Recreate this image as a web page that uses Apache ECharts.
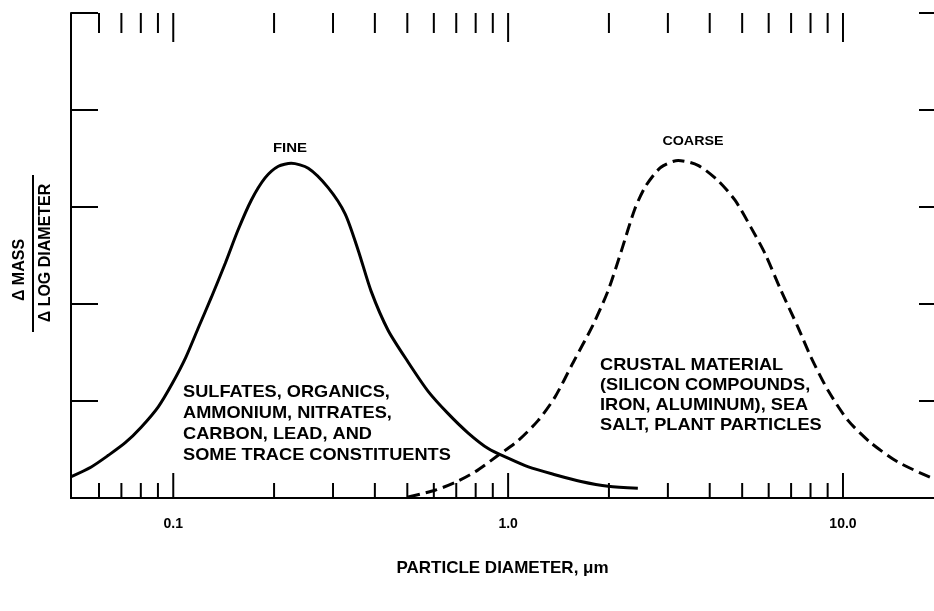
<!DOCTYPE html>
<html>
<head>
<meta charset="utf-8">
<script src="https://cdn.jsdelivr.net/npm/echarts@6/dist/echarts.min.js"></script>
<style>
  html, body { margin: 0; padding: 0; background: #fff; }
  #chart { width: 934px; height: 611px; }
</style>
</head>
<body>
<div id="chart"></div>
<script>
// fine mode (solid curve), particle diameter in um vs relative mass
const fineX = [0.0496, 0.0569, 0.064, 0.0719, 0.0802, 0.0902, 0.0993, 0.109, 0.119, 0.13, 0.143,
  0.156, 0.171, 0.188, 0.206, 0.225, 0.253, 0.29, 0.326, 0.357, 0.39, 0.438, 0.503, 0.577,
  0.662, 0.76, 0.872, 1.0, 1.15, 1.38, 1.65, 1.99, 2.44]
const fineY = [0.22, 0.32, 0.44, 0.57, 0.73, 0.94, 1.18, 1.45, 1.76, 2.07, 2.42,
  2.76, 3.07, 3.3, 3.42, 3.45, 3.4, 3.2, 2.93, 2.55, 2.13, 1.73, 1.4, 1.1,
  0.87, 0.67, 0.51, 0.41, 0.32, 0.24, 0.17, 0.12, 0.1]

// coarse mode (dashed curve)
const coarseX = [0.503, 0.605, 0.695, 0.797, 0.934, 1.07, 1.23, 1.38, 1.56, 1.79, 1.99, 2.18,
  2.39, 2.58, 2.86, 3.22, 3.69, 4.24, 4.76, 5.31, 5.85, 6.53, 7.34, 8.03, 9.02, 10.35,
  12.1, 14.6, 18.3]
const coarseY = [0.01, 0.08, 0.16, 0.27, 0.44, 0.59, 0.8, 1.04, 1.39, 1.78, 2.14, 2.55,
  2.98, 3.22, 3.41, 3.48, 3.43, 3.27, 3.07, 2.79, 2.52, 2.14, 1.76, 1.45, 1.11, 0.8,
  0.57, 0.37, 0.21]

// axis ticks and labels
const majorTicks = [0.1, 1, 10]
const majorTickLabels = ['0.1', '1.0', '10.0']
const minorTicks = [0.06, 0.07, 0.08, 0.09, 0.2, 0.3, 0.4, 0.5, 0.6, 0.7, 0.8, 0.9,
  2, 3, 4, 5, 6, 7, 8, 9]

const FONT = "'Liberation Sans', Arial, sans-serif"
const X_MIN = 0.0495
const X_MAX = 18.7

const chart = echarts.init(document.getElementById('chart'))

const tickData = majorTicks.map(v => [v, 1]).concat(minorTicks.map(v => [v, 0]))

const option = {
  backgroundColor: '#fff',
  animation: false,
  grid: { left: 71, right: 0, top: 13, bottom: 113 },
  xAxis: [
    {
      type: 'log',
      logBase: 10,
      min: X_MIN,
      max: X_MAX,
      position: 'bottom',
      name: 'PARTICLE DIAMETER, μm',
      nameLocation: 'middle',
      nameGap: 62,
      nameTextStyle: { color: '#000', fontFamily: FONT, fontWeight: 'bold', fontSize: 17 },
      axisLine: { lineStyle: { color: '#000', width: 2 } },
      axisTick: { show: false },
      splitLine: { show: false },
      axisLabel: {
        color: '#000',
        fontFamily: FONT,
        fontWeight: 'bold',
        fontSize: 14,
        margin: 19,
        showMinLabel: false,
        showMaxLabel: false,
        formatter: v => {
          const i = majorTicks.findIndex(m => Math.abs(Math.log10(m) - Math.log10(v)) < 1e-6)
          return i >= 0 ? majorTickLabels[i] : ''
        }
      }
    },
    {
      type: 'log',
      logBase: 10,
      min: X_MIN,
      max: X_MAX,
      position: 'top',
      axisLine: { lineStyle: { color: '#000', width: 2 } },
      axisTick: { show: false },
      axisLabel: { show: false },
      splitLine: { show: false }
    }
  ],
  yAxis: [
    {
      type: 'value',
      min: 0,
      max: 5,
      interval: 1,
      position: 'left',
      axisLine: { show: true, lineStyle: { color: '#000', width: 2 } },
      axisTick: { show: true, inside: true, length: 27, lineStyle: { color: '#000', width: 2 } },
      axisLabel: { show: false },
      splitLine: { show: false }
    },
    {
      type: 'value',
      min: 0,
      max: 5,
      interval: 1,
      position: 'right',
      axisLine: { show: false },
      axisTick: { show: true, inside: true, length: 15, lineStyle: { color: '#000', width: 2 } },
      axisLabel: { show: false },
      splitLine: { show: false }
    }
  ],
  graphic: [
    // y axis title as a fraction
    {
      type: 'text', x: 20, y: 270, rotation: Math.PI / 2,
      style: { text: 'Δ MASS', font: "bold 16px " + FONT, fill: '#000', align: 'center', verticalAlign: 'middle' }
    },
    {
      type: 'line', shape: { x1: 33, y1: 175, x2: 33, y2: 332 },
      style: { stroke: '#000', lineWidth: 2 }
    },
    {
      type: 'text', x: 46, y: 253, rotation: Math.PI / 2,
      style: { text: 'Δ LOG DIAMETER', font: "bold 16px " + FONT, fill: '#000', align: 'center', verticalAlign: 'middle' }
    },
    // curve names
    {
      type: 'text', x: 290, y: 148, scaleX: 1.15,
      style: { text: 'FINE', font: "bold 13px " + FONT, fill: '#000', align: 'center', verticalAlign: 'middle' }
    },
    {
      type: 'text', x: 693, y: 141, scaleX: 1.1,
      style: { text: 'COARSE', font: "bold 13px " + FONT, fill: '#000', align: 'center', verticalAlign: 'middle' }
    },
    // composition notes
    {
      type: 'text', x: 183, y: 382, scaleX: 1.07,
      style: {
        text: 'SULFATES, ORGANICS,\nAMMONIUM, NITRATES,\nCARBON, LEAD, AND\nSOME TRACE CONSTITUENTS',
        font: "bold 17px " + FONT, lineHeight: 21, fill: '#000', align: 'left', verticalAlign: 'top'
      }
    },
    {
      type: 'text', x: 600, y: 355, scaleX: 1.07,
      style: {
        text: 'CRUSTAL MATERIAL\n(SILICON COMPOUNDS,\nIRON, ALUMINUM), SEA\nSALT, PLANT PARTICLES',
        font: "bold 17px " + FONT, lineHeight: 20, fill: '#000', align: 'left', verticalAlign: 'top'
      }
    }
  ],
  series: [
    {
      name: 'Fine',
      type: 'line',
      smooth: 0.25,
      showSymbol: false,
      lineStyle: { color: '#000', width: 3 },
      data: fineX.map((x, i) => [x, fineY[i]])
    },
    {
      name: 'Coarse',
      type: 'line',
      smooth: 0.25,
      showSymbol: false,
      lineStyle: { color: '#000', width: 3, type: [12, 6] },
      data: coarseX.map((x, i) => [x, coarseY[i]])
    },
    {
      // log minor/major ticks on top and bottom frames
      name: 'ticks',
      type: 'custom',
      silent: true,
      data: tickData,
      renderItem: (params, api) => {
        const x = api.value(0)
        const major = api.value(1) === 1
        const b = api.coord([x, 0])
        const t = api.coord([x, 5])
        const lb = major ? 25 : 15
        const lt = major ? 29 : 20
        const style = { stroke: '#000', lineWidth: 2 }
        return {
          type: 'group',
          children: [
            { type: 'line', shape: { x1: b[0], y1: b[1], x2: b[0], y2: b[1] - lb }, style },
            { type: 'line', shape: { x1: t[0], y1: t[1], x2: t[0], y2: t[1] + lt }, style }
          ]
        }
      }
    }
  ]
}

chart.setOption(option)
</script>
</body>
</html>
